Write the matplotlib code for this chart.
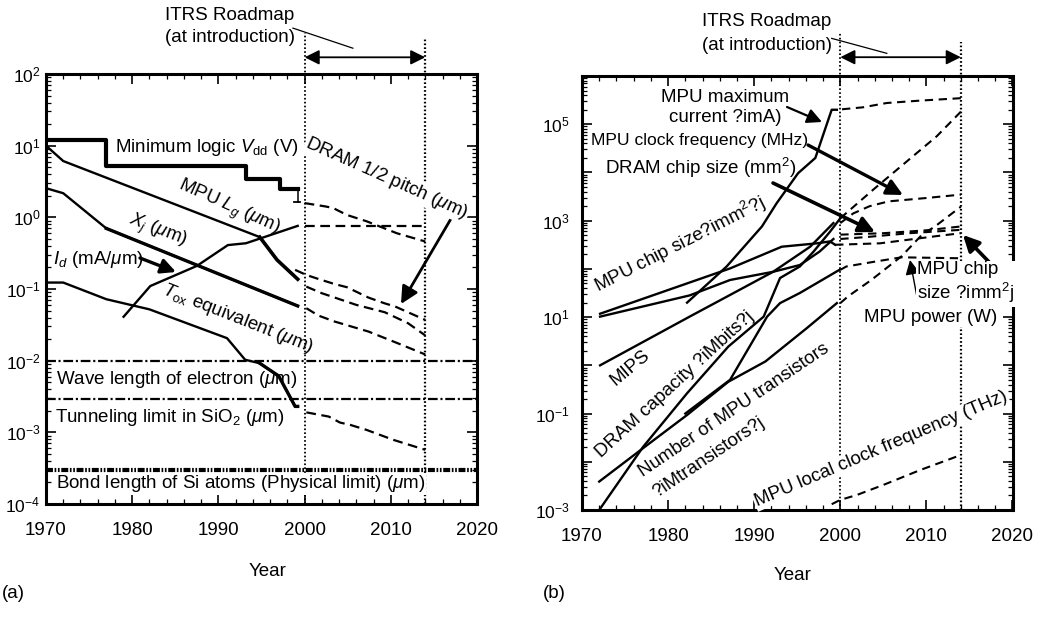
import numpy as np
import matplotlib
matplotlib.use('Agg')
import matplotlib.pyplot as plt
from matplotlib.ticker import LogLocator, FuncFormatter, MultipleLocator, NullFormatter

plt.rcParams['font.family'] = ['Liberation Sans', 'DejaVu Sans']
plt.rcParams['mathtext.fontset'] = 'custom'
plt.rcParams['mathtext.rm'] = 'Liberation Sans'
plt.rcParams['mathtext.it'] = 'Liberation Sans:italic'
plt.rcParams['mathtext.bf'] = 'Liberation Sans:bold'
plt.rcParams['lines.scale_dashes'] = False

# ---------------- data: panel (a) ----------------
vdd_years = [1970, 1977, 1993.2, 1997.1, 1999.2]
vdd_vals = [12.0, 5.2, 3.4, 2.5, 2.5]
vdd_thin_years = [1999.2, 1999.2]
vdd_thin_vals = [2.5, 1.66]
vdd_tick_years = [1998.8, 1999.5]
vdd_tick_vals = [1.66, 1.66]
vdd_fut_years = [2000, 2002.4, 2003.3, 2004.9, 2007.2, 2010.7, 2014]
vdd_fut_vals = [1.58, 1.42, 1.35, 1.08, 0.88, 0.60, 0.46]

lg_years = [1970, 1972, 1994.8, 1996.8, 1999.2]
lg_vals = [10.0, 6.1, 0.53, 0.255, 0.137]
lg_fut_years = [2000.2, 2002.0, 2003.5, 2006.0, 2009.3, 2012.0, 2014]
lg_fut_vals = [0.108, 0.0873, 0.0759, 0.060, 0.0474, 0.0333, 0.0225]

pitch_fut_years = [1998.9, 2000.2, 2001.6, 2003.5, 2004.9, 2007.4, 2009.3, 2010.5, 2014]
pitch_fut_vals = [0.185, 0.157, 0.138, 0.117, 0.106, 0.076, 0.063, 0.057, 0.037]

xj_years = [1970, 1972, 1977, 1999.2]
xj_vals = [2.55, 2.17, 0.70, 0.058]
xj_fut_years = [2000.2, 2001.6, 2003.5, 2007.4, 2010.5, 2014]
xj_fut_vals = [0.054, 0.0426, 0.0351, 0.0255, 0.0181, 0.0122]

id_years = [1979, 1982.1, 1987.5, 1991.1, 1993.2, 1999.2]
id_vals = [0.041, 0.11, 0.21, 0.41, 0.435, 0.76]
id_fut_years = [2000, 2014]
id_fut_vals = [0.76, 0.76]

tox_years = [1970, 1972, 1977, 1982, 1991, 1993.1, 1994.8, 1997, 1998.9, 1999.2]
tox_vals = [0.123, 0.123, 0.072, 0.052, 0.0206, 0.0103, 0.0092, 0.0061, 0.0023, 0.0023]
tox_fut_years = [2000.2, 2002.8, 2004.1, 2005.3, 2007.2, 2010.3, 2014]
tox_fut_vals = [0.0019, 0.00166, 0.00137, 0.00127, 0.00108, 0.000785, 0.00057]

limit_vals = [0.01, 0.0029, 0.0003]

# ---------------- data: panel (b)  (values in log10) ----------------
imax_years = [1982.2, 1986.8, 1990.9, 1992.6, 1995.1, 1997.1, 1999.0, 1999.6]
imax_log = [1.30, 2.05, 2.88, 3.36, 3.985, 4.30, 5.30, 5.30]
imax_fut_years = [2000.2, 2002.6, 2005.4, 2009.3, 2014]
imax_fut_log = [5.31, 5.35, 5.44, 5.49, 5.54]

mpuchip_years = [1972.1, 1987.2, 1993.2, 1997.3, 1998.8, 1999.4]
mpuchip_log = [1.07, 2.01, 2.46, 2.53, 2.57, 2.50]
mpuchip_fut_years = [1999.4, 2004.6, 2007.7, 2011.2, 2014]
mpuchip_fut_log = [2.50, 2.53, 2.60, 2.68, 2.74]

dramchip_years = [1972.1, 1982.5, 1987.2, 1992.2, 1995.3, 1997.6, 1999.2]
dramchip_log = [1.01, 1.45, 1.77, 1.94, 2.08, 2.36, 2.62]
dramchip_fut_years = [2000, 2003, 2008, 2014]
dramchip_fut_log = [2.62, 2.66, 2.74, 2.81]

grp_fut_years = [2000, 2005, 2010, 2014]
grp_fut_log = [2.71, 2.74, 2.80, 2.88]

mips_years = [1972.1, 1982.5, 1987.2, 1992.2, 1996.5, 1999.2]
mips_log = [0.0, 1.01, 1.46, 1.94, 2.46, 2.95]

dramcap_years = [1972, 1977.1, 1982.2, 1987.0, 1991.1, 1993.0, 1995.3, 1996.9, 1998.8, 2000.0]
dramcap_log = [-3.0, -1.69, -0.58, 0.39, 1.01, 1.81, 2.05, 2.36, 2.77, 3.05]
dramcap_fut_years = [2000, 2004, 2007, 2011.2, 2014]
dramcap_fut_log = [3.05, 3.67, 4.12, 4.75, 5.26]

clock_fut_years = [2000, 2001.5, 2003.4, 2005.6, 2010, 2014]
clock_fut_log = [2.95, 3.15, 3.30, 3.40, 3.47, 3.54]

trans_years = [1972, 1977.3, 1982.2, 1987.0, 1991.3, 1996.1, 1999.6]
trans_log = [-2.41, -1.69, -1.03, -0.34, 0.08, 0.77, 1.29]
trans_fut_years = [2000.0, 2000.9, 2003.6, 2007.1, 2009.5, 2011.0, 2014]
trans_fut_log = [1.29, 1.43, 1.77, 2.26, 2.71, 2.88, 3.29]

power_years = [1982.0, 1987.2, 1991.5, 1993.0, 1995.3, 1999.9]
power_log = [-1.0, -0.30, 1.01, 1.29, 1.50, 1.98]
power_fut_years = [2000, 2000.7, 2004, 2007.1, 2014]
power_fut_log = [1.98, 2.05, 2.15, 2.24, 2.22]

local_fut_years = [1999, 2000, 2001.9, 2005.0, 2009.3, 2014]
local_fut_log = [-2.88, -2.79, -2.69, -2.48, -2.17, -1.86]

roadmap_years = [2000, 2014]

# ---------------- figure ----------------
W, H = 1049, 617
fig = plt.figure(figsize=(W / 100, H / 100), dpi=100)
axA = fig.add_axes([46 / W, 1 - 504 / H, 431 / W, 430 / H])
axB = fig.add_axes([582 / W, 1 - 510 / H, 430.5 / W, 434 / H])

FS = 13.5


def F(px, py):
    return (px / W, 1 - py / H)


def ftext(px, py, s, **kw):
    kw.setdefault('fontsize', FS)
    kw.setdefault('ha', 'center')
    kw.setdefault('va', 'center')
    fig.text(px / W, 1 - py / H, s, **kw)


def farrow(p0, p1, lw=2.2, ms=22):
    fig.add_artist(matplotlib.patches.FancyArrowPatch(
        F(*p0), F(*p1), transform=fig.transFigure, arrowstyle='-|>',
        mutation_scale=ms, lw=lw, color='k', shrinkA=0, shrinkB=0))


def style(ax, ylo, yhi, labelled, ypad):
    ax.set_yscale('log')
    ax.set_xlim(1970, 2020)
    ax.set_ylim(ylo, yhi)
    ax.xaxis.set_major_locator(MultipleLocator(10))
    ax.xaxis.set_minor_locator(MultipleLocator(2))
    ax.yaxis.set_major_locator(LogLocator(base=10, numticks=30))
    ax.yaxis.set_minor_locator(LogLocator(base=10, subs=np.arange(2, 10), numticks=30))
    ax.yaxis.set_minor_formatter(NullFormatter())

    def fmt(v, _):
        e = int(round(np.log10(v)))
        return r'10$^{%d}$' % e if labelled(e) else ''
    ax.yaxis.set_major_formatter(FuncFormatter(fmt))
    ax.xaxis.set_major_formatter(FuncFormatter(lambda v, _: '%d' % v))
    ax.tick_params(which='both', direction='in', top=True, right=True, colors='k')
    ax.tick_params(which='major', length=7, width=1.2)
    ax.tick_params(axis='x', which='major', pad=13, labelsize=13.5)
    ax.tick_params(axis='y', which='major', pad=ypad, labelsize=12.5)
    ax.tick_params(which='minor', length=3.5, width=0.9)
    for s in ax.spines.values():
        s.set_linewidth(2.2)


style(axA, 1e-4, 1e2, lambda e: True, 4)
style(axB, 1e-3, 1e6, lambda e: e % 2 == 1, 9)

DASH = (0, (7, 4))
DASHB = (0, (6, 4))
DOT = (0, (1.2, 1.6))
kS = dict(color='k', lw=1.7, solid_joinstyle='round')
kD = dict(color='k', lw=1.6, ls=DASH)
kDB = dict(color='k', lw=1.5, ls=DASHB)

# ---- panel (a) ----
a = axA
a.step(vdd_years, vdd_vals, where='post', color='k', lw=3.0)
a.plot(vdd_thin_years, vdd_thin_vals, color='k', lw=1.1)
a.plot(vdd_tick_years, vdd_tick_vals, color='k', lw=1.3)
a.plot(vdd_fut_years, vdd_fut_vals, **kD)
a.plot(lg_years, lg_vals, **kS)
a.plot(lg_years[-3:], lg_vals[-3:], color='k', lw=2.6)
a.plot(lg_fut_years, lg_fut_vals, **kD)
a.plot(pitch_fut_years, pitch_fut_vals, **kD)
a.plot(xj_years, xj_vals, **kS)
a.plot(xj_years[-2:], xj_vals[-2:], color='k', lw=2.4)
a.plot(xj_fut_years, xj_fut_vals, **kD)
a.plot(id_years, id_vals, **kS)
a.plot(id_fut_years, id_fut_vals, **kD)
a.plot(tox_years, tox_vals, **kS)
a.plot(tox_years[-4:], tox_vals[-4:], color='k', lw=2.4)
a.plot(tox_fut_years, tox_fut_vals, **kD)
a.axhline(limit_vals[0], color='k', lw=1.6, ls=(0, (7, 2, 1.5, 2)))
a.axhline(limit_vals[1], color='k', lw=1.6, ls=(0, (7, 2, 1.5, 2)))
a.axhline(limit_vals[2], color='k', lw=3.0, ls=(0, (5, 1.2, 1.2, 1.2, 1.2, 1.2)))
a.plot([roadmap_years[0]] * 2, [1e-4, 10 ** 2.57], color='k', lw=1.3, ls=DOT, clip_on=False)
a.plot([roadmap_years[1]] * 2, [1e-4, 10 ** 2.49], color='k', lw=1.6, ls=DOT, clip_on=False)
a.annotate('', xy=(roadmap_years[0], 10 ** 2.233), xytext=(roadmap_years[1], 10 ** 2.233),
           arrowprops=dict(arrowstyle='<|-|>', lw=1.3, mutation_scale=22, color='k',
                           shrinkA=0, shrinkB=0), annotation_clip=False)
a.plot([1998.65, 2005.6], [10 ** 2.64, 10 ** 2.36], color='k', lw=0.9, clip_on=False)

# ---- panel (b) ----
b = axB
P = lambda v: 10 ** np.asarray(v)
b.plot(imax_years, P(imax_log), **kS)
b.plot(imax_fut_years, P(imax_fut_log), **kDB)
b.plot(mpuchip_years, P(mpuchip_log), **kS)
b.plot(mpuchip_fut_years, P(mpuchip_fut_log), **kDB)
b.plot(dramchip_years, P(dramchip_log), **kS)
b.plot(dramchip_fut_years, P(dramchip_fut_log), **kDB)
b.plot(grp_fut_years, P(grp_fut_log), **kDB)
b.plot(mips_years, P(mips_log), **kS)
b.plot(dramcap_years, P(dramcap_log), **kS)
b.plot(dramcap_fut_years, P(dramcap_fut_log), **kDB)
b.plot(clock_fut_years, P(clock_fut_log), **kDB)
b.plot(trans_years, P(trans_log), **kS)
b.plot(trans_fut_years, P(trans_fut_log), **kDB)
b.plot(power_years, P(power_log), **kS)
b.plot(power_fut_years, P(power_fut_log), **kDB)
b.plot(local_fut_years, P(local_fut_log), **kDB)
b.plot([roadmap_years[0]] * 2, [1e-3, 10 ** 6.886], color='k', lw=1.3, ls=DOT, clip_on=False)
b.plot([roadmap_years[1]] * 2, [1e-3, 10 ** 6.71], color='k', lw=1.6, ls=DOT, clip_on=False)
b.annotate('', xy=(roadmap_years[0], 10 ** 6.39), xytext=(roadmap_years[1], 10 ** 6.39),
           arrowprops=dict(arrowstyle='<|-|>', lw=1.3, mutation_scale=22, color='k',
                           shrinkA=0, shrinkB=0), annotation_clip=False)
b.plot([1999.0, 2005.4], [10 ** 6.78, 10 ** 6.47], color='k', lw=0.9, clip_on=False)

# ---------------- texts (a) ----------------
WB = dict(fc='white', ec='none', pad=1.0)
WB0 = dict(fc='white', ec='none', pad=0.1)
ftext(230, 16, 'ITRS Roadmap')
ftext(230, 37, '(at introduction)')
ftext(115, 147, r'Minimum logic $V_{\mathrm{dd}}$ (V)', ha='left')
ftext(387, 178, r'DRAM 1/2 pitch ($\mu$m)', rotation=-24, rotation_mode='anchor', bbox=WB)
ftext(229, 208, r'MPU $L_g$ ($\mu$m)', rotation=-24, rotation_mode='anchor')
ftext(158, 231, r'$X_j$ ($\mu$m)', rotation=-21, rotation_mode='anchor')
ftext(53, 260, r'$I_d$ (mA/$\mu$m)', ha='left')
ftext(238, 319, r'$T_{\mathrm{ox}}$ equivalent ($\mu$m)', rotation=-21.5, rotation_mode='anchor')
ftext(56, 380, r'Wave length of electron ($\mu$m)', ha='left')
ftext(55, 417, r'Tunneling limit in SiO$_2$ ($\mu$m)', ha='left')
ftext(56, 484, r'Bond length of Si atoms (Physical limit) ($\mu$m)', ha='left', bbox=WB0)
ftext(2, 594, '(a)', ha='left')
ftext(268, 571, 'Year')
farrow((140, 258), (176, 272), lw=2.4, ms=22)
farrow((452, 217), (401, 304), lw=2.0, ms=26)

# ---------------- texts (b) ----------------
ftext(767, 22, 'ITRS Roadmap')
ftext(767, 45, '(at introduction)')
ftext(725, 107.5, 'MPU maximum\ncurrent ?imA)', linespacing=1.2)
ftext(591, 140, 'MPU clock frequency (MHz)', ha='left', fontsize=12.6)
ftext(605, 168, r'DRAM chip size (mm$^2$)', ha='left')
ftext(680, 244, r'MPU chip size?imm$^2$?j', rotation=27, rotation_mode='anchor')
ftext(630, 368, 'MIPS', rotation=40, rotation_mode='anchor')
ftext(675, 385, 'DRAM capacity ?iMbits?j', rotation=42.5, rotation_mode='anchor')
ftext(734, 410, 'Number of MPU transistors', rotation=34, rotation_mode='anchor')
ftext(709, 457, '?iMtransistors?j', rotation=34, rotation_mode='anchor')
ftext(881, 449, 'MPU local clock frequency (THz)', rotation=23, rotation_mode='anchor', bbox=WB)
ftext(917, 283, 'MPU chip\nsize ?imm$^2$j', ha='left', multialignment='left', linespacing=1.2, bbox=WB)
ftext(931, 317, 'MPU power (W)', bbox=WB)
ftext(543, 594, '(b)', ha='left')
ftext(793, 576, 'Year')
farrow((787, 107), (822, 122), lw=1.6, ms=22)
farrow((808, 145), (903, 195), lw=2.4, ms=24)
farrow((773, 183), (875, 232), lw=2.6, ms=24)
farrow((990, 263), (963, 235), lw=2.6, ms=24)
farrow((917, 297), (910, 260), lw=1.0, ms=22)

fig.savefig('out.png', dpi=100)
